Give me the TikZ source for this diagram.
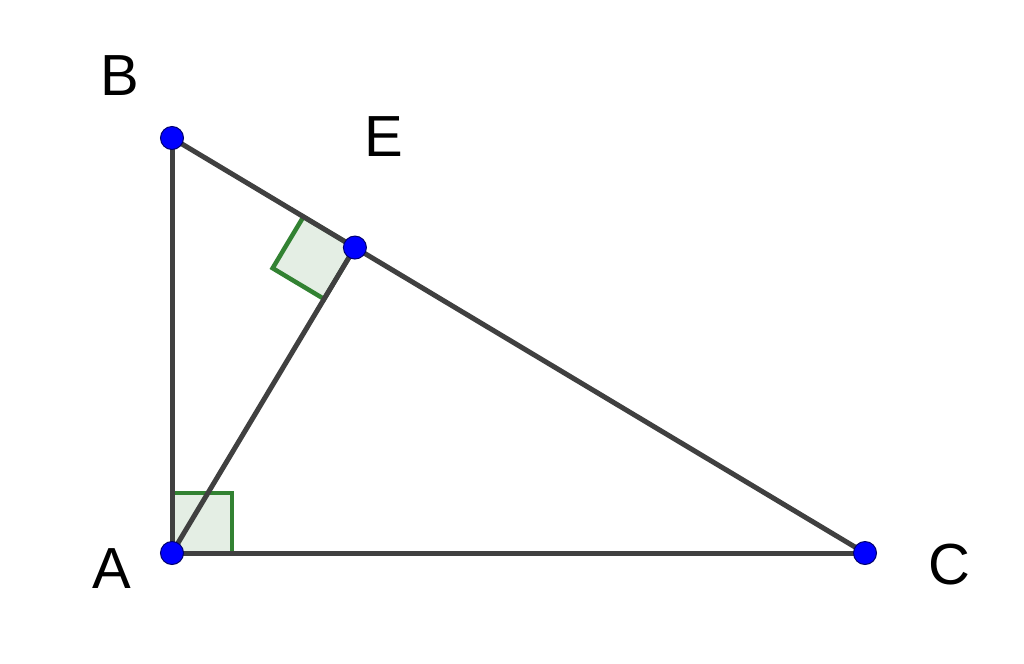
\documentclass[tikz,border=0pt]{standalone}
\usepackage{fontspec}
\setmainfont{Liberation Sans}
\usetikzlibrary{calc}
\definecolor{segcol}{RGB}{64,64,64}
\definecolor{angcol}{RGB}{50,130,50}
\definecolor{angfill}{RGB}{228,238,228}
\definecolor{ptcol}{RGB}{0,0,255}
\definecolor{ptdraw}{RGB}{0,0,110}
\tikzset{
  seg/.style={draw=segcol, line width=0.1cm},
  rightang/.style={draw=angcol, fill=angfill, line width=0.09cm},
  pt/.style={circle, fill=ptcol, draw=ptdraw, line width=0.02cm, inner sep=0pt, minimum size=0.46cm},
  lbl/.style={font=\fontsize{33}{40}\selectfont, inner sep=0pt}
}
\begin{document}
\begin{tikzpicture}[x=0.02cm, y=-0.02cm]
  \useasboundingbox (0,0) rectangle (1024,663);
  \coordinate (A) at (172,553);
  \coordinate (B) at (172,138);
  \coordinate (C) at (865,553);
  \coordinate (E) at ($(B)!(A)!(C)$);
  % right angles
  \draw[rightang] (A) rectangle ++(60,-60);
  \coordinate (EB) at ($(E)!1.2cm!(B)$);
  \coordinate (EA) at ($(E)!1.2cm!(A)$);
  \draw[rightang] (E) -- (EB) -- ($(EB)+(EA)-(E)$) -- (EA) -- cycle;
  \begin{scope}[seg]
    \draw (A) to (B);
    \draw (B) to (C);
    \draw (A) to (C);
    \draw (A) to (E);
  \end{scope}
  \draw
    (A) node[pt] (pA){}
    (B) node[pt] (pB){}
    (C) node[pt] (pC){}
    (E) node[pt] (pE){};
  \node[lbl] (lA) at (112,569) {A};
  \node[lbl] (lB) at (120,76) {B};
  \node[lbl] (lC) at (949,565) {C};
  \node[lbl] (lE) at (384,137) {E};
\end{tikzpicture}
\end{document}
